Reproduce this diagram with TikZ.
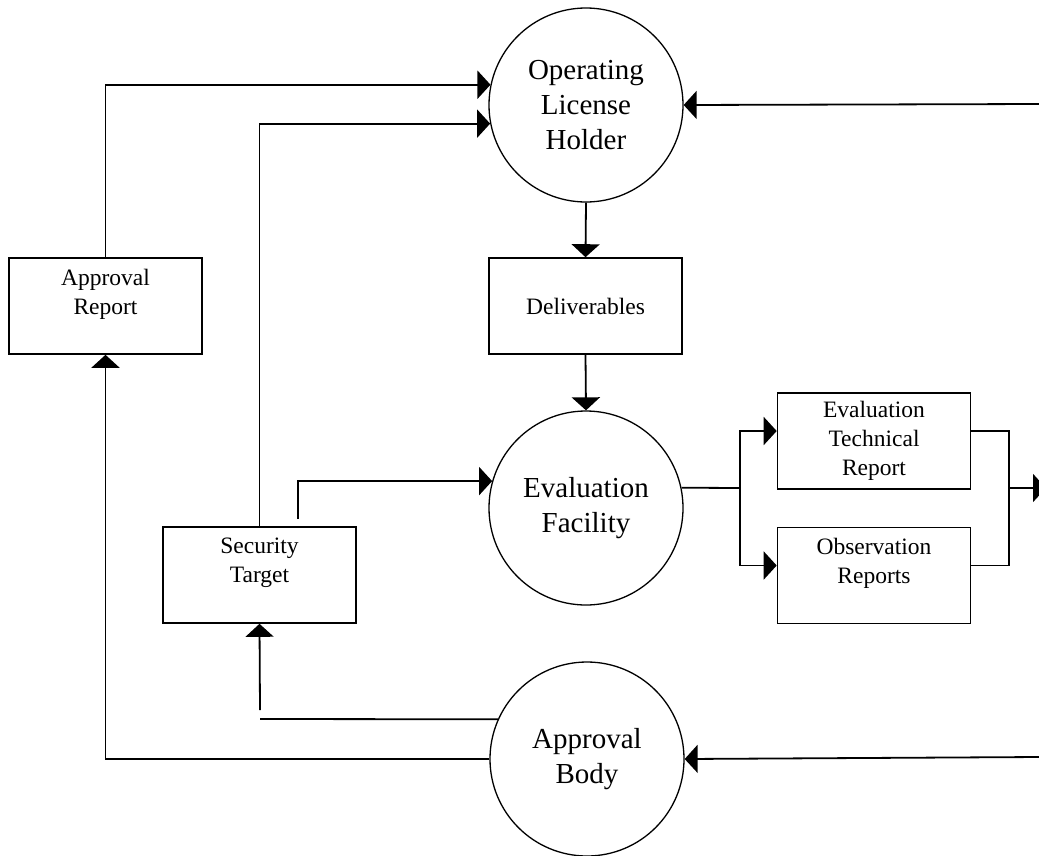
\documentclass[tikz,border=0pt]{standalone}
\usepackage{fontspec}
\setmainfont{Liberation Serif}
\usetikzlibrary{arrows.meta}

\begin{document}
\begin{tikzpicture}[x=1pt, y=-1pt, line width=1.8pt,
        arr/.style={-{Triangle[length=13pt,width=28pt]}},
        proc/.style={draw, circle, line width=1.3pt, minimum size=194pt, inner sep=0pt,
            align=center, font=\fontsize{29}{35}\selectfont},
        item/.style={draw, rectangle, line width=1.6pt, minimum width=193pt, minimum height=96pt,
            inner sep=0pt, align=center, font=\fontsize{23.5}{29}\selectfont}]
    \useasboundingbox (0,0) rectangle (1039,855);

    \node[proc] (olh) at (586,105) {Operating\\License\\Holder};
    \node[proc] (ef) at (586,508) {Evaluation\\Facility};
    \node[proc] (ab) at (587,759) {Approval\\Body};

    \node[item] (apprep) at (105.5,306) {Approval\\Report\\\rule{0pt}{0pt}};
    \node[item] (deliv) at (585.5,306) {Deliverables};
    \node[item] (st) at (259.5,575) {Security\\Target\\\rule{0pt}{0pt}};
    \node[item] (etr) at (874,441) {Evaluation\\Technical\\Report};
    \node[item] (obs) at (874,575.5) {Observation\\Reports\\\rule{0pt}{0pt}};

    \coordinate (olhsrc) at (1039,104);
    \coordinate (absrc) at (1039,757);
    \coordinate (stout) at (298,519);
    \coordinate (stcorner) at (260,719);
    \coordinate (stfoot) at (260,710);
    \coordinate (fork) at (740,488);
    \coordinate (brk) at (1009,488);
    \coordinate (out) at (1046,488);

    \draw[arr] (apprep.north) |- (olh.168);
    \draw[arr] (st.north) |- (olh.191);
    \draw[arr] (olhsrc) -- (olh.east);
    \draw[arr] (olh.south) -- (deliv.north);
    \draw[arr] (deliv.south) -- (ef.north);
    \draw[arr] (stout) |- (ef.164);

    \draw (ef.12) -- (fork);
    \draw[arr] (fork) |- ([yshift=10pt]etr.west);
    \draw[arr] (fork) |- ([yshift=10pt]obs.west);
    \draw ([yshift=10pt]etr.east) -| (brk) |- ([yshift=10pt]obs.east);
    \draw[arr] (brk) -- (out);

    \draw[arr] (absrc) -- (ab.east);
    \draw[arr] (ab.west) -| (apprep.south);
    \draw (ab.156) -- (stcorner);
    \draw[arr] (stfoot) -- (st.south);
\end{tikzpicture}
\end{document}
